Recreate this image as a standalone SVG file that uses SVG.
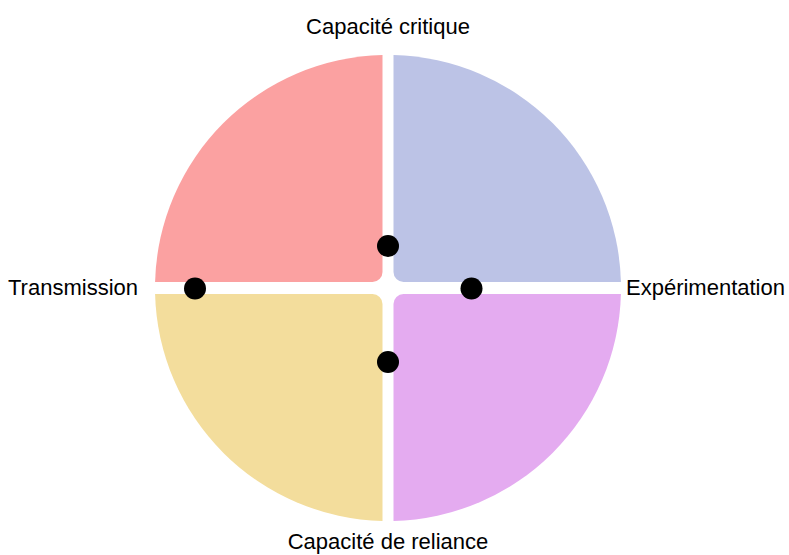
<svg xmlns="http://www.w3.org/2000/svg" width="789" height="555" viewBox="0 0 789 555">
<style>
text{font-family:"Liberation Sans",Arial,sans-serif;font-size:22px;fill:#000}
.dot{fill:#000}
</style>
<rect width="789" height="555" fill="#fff"/>
<g id="q-critique-experimentation"><path d="M393.5,55.06 A233,233 0 0 1 620.92,282 L403.5,282 A10,10 0 0 1 393.5,272 Z" fill="#BCC3E6"/></g>
<g id="q-transmission-critique"><path d="M382.5,55.06 A233,233 0 0 0 155.08,282 L372.5,282 A10,10 0 0 0 382.5,272 Z" fill="#FBA1A1"/></g>
<g id="q-transmission-reliance"><path d="M155.08,294 A233,233 0 0 0 382.5,520.94 L382.5,304 A10,10 0 0 0 372.5,294 Z" fill="#F3DD9C"/></g>
<g id="q-experimentation-reliance"><path d="M620.92,294 A233,233 0 0 1 393.5,520.94 L393.5,304 A10,10 0 0 1 403.5,294 Z" fill="#E4ABF0"/></g>
<g id="dots">
<circle class="dot" cx="388" cy="246" r="11"/>
<circle class="dot" cx="388" cy="362" r="11"/>
<circle class="dot" cx="195" cy="288.5" r="11"/>
<circle class="dot" cx="471.5" cy="288.5" r="11"/>
</g>
<g id="labels">
<text x="388" y="34" text-anchor="middle">Capacité critique</text>
<text x="388" y="549" text-anchor="middle">Capacité de reliance</text>
<text x="138" y="295" text-anchor="end">Transmission</text>
<text x="626" y="295">Expérimentation</text>
</g>
</svg>
